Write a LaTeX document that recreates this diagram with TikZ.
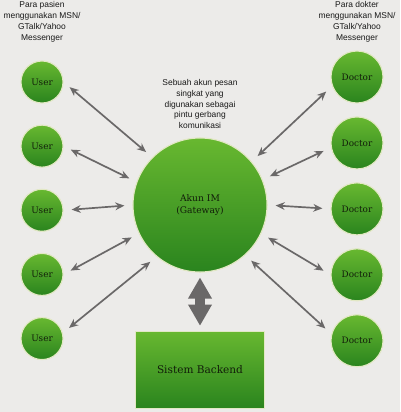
\documentclass[tikz,border=0pt]{standalone}
\usepackage{fontspec}
\setmainfont{DejaVu Serif}
\newfontfamily\notefont{Liberation Sans}
\usepackage{tikz}
\usetikzlibrary{arrows.meta, positioning}
\definecolor{IM-bg}{RGB}{236,235,233}
\definecolor{IM-lightgreen}{RGB}{104,184,48}
\definecolor{IM-darkgreen}{RGB}{42,132,30}
\definecolor{IM-rim}{RGB}{226,232,196}
\definecolor{IM-grey}{RGB}{106,104,104}
\definecolor{IM-text}{RGB}{18,30,10}
\tikzset{%
    edge/.style={%
        <->,
        >={Stealth[length=6.5pt, width=5.5pt]},
        draw=IM-grey,
        line width=1.2pt,
        shorten <=0.2cm,
        shorten >=0.2cm,
    },
    bigedge/.style={%
        {Triangle[length=0.53cm, width=0.56cm]}-{Triangle[length=0.53cm, width=0.56cm]},
        draw=IM-grey,
        line width=0.25cm,
        shorten <=0.12cm,
        shorten >=0.12cm,
    },
    ball/.style={%
        circle,
        top color=IM-lightgreen,
        bottom color=IM-darkgreen,
        draw=IM-rim, line width=0.8pt,
        text=IM-text,
        text centered,
    },
    user/.style={%
        ball,
        minimum size=1.05cm,
        font=\fontsize{6.3}{7}\selectfont,
    },
    doctor/.style={%
        ball,
        minimum size=1.3cm,
        font=\fontsize{6.3}{7}\selectfont,
    },
    gateway/.style={%
        ball,
        minimum size=3.35cm,
        align=center,
        font=\fontsize{6.5}{8}\selectfont,
    },
    backend/.style={%
        rectangle,
        top color=IM-lightgreen,
        bottom color=IM-darkgreen,
        draw=IM-rim, line width=0.8pt,
        minimum width=3.23cm,
        minimum height=1.93cm,
        text=IM-text,
        font=\fontsize{7.5}{9}\selectfont,
    },
    note/.style={%
        align=center,
        text=black!90,
        font=\notefont\fontsize{6}{7.8}\selectfont,
    },
}

\begin{document}
\begin{tikzpicture}[x=0.025cm, y=-0.025cm]
  \fill[IM-bg] (0,0) rectangle (400,412);
  \useasboundingbox (0,0) rectangle (400,412);

  \coordinate (left_side) at (42, 82);
  \coordinate (right_side) at (357, 77);

  \node [note] at (42, 22) (note_user) {Para pasien\\menggunakan MSN/\\GTalk/Yahoo\\Messenger};
  \node [note] at (357, 22) (note_doctor) {Para dokter\\menggunakan MSN/\\GTalk/Yahoo\\Messenger};
  \node [note] at (200, 104) (note_gw) {Sebuah akun pesan\\singkat yang\\digunakan sebagai\\pintu gerbang\\komunikasi};

  \node [user] at (left_side) (user1) {User};
  \node [user, below=0.525cm of user1] (user2) {User};
  \node [user, below=0.525cm of user2] (user3) {User};
  \node [user, below=0.525cm of user3] (user4) {User};
  \node [user, below=0.525cm of user4] (user5) {User};

  \node [doctor] at (right_side) (doctor1) {Doctor};
  \node [doctor, below=0.32cm of doctor1] (doctor2) {Doctor};
  \node [doctor, below=0.32cm of doctor2] (doctor3) {Doctor};
  \node [doctor, below=0.32cm of doctor3] (doctor4) {Doctor};
  \node [doctor, below=0.32cm of doctor4] (doctor5) {Doctor};

  \node [gateway] at (200, 205) (gw) {Akun IM\\(Gateway)};
  \node [backend, below=1.45cm of gw] (backend) {Sistem Backend};

  \draw[edge] (user1.east) -- (gw.135);
  \draw[edge] (user2.east) -- (gw.160);
  \draw[edge] (user3.east) -- (gw.west);
  \draw[edge] (user4.east) -- (gw.205);
  \draw[edge] (user5.15) -- (gw.230);

  \draw[edge] (doctor1.200) -- (gw.40);
  \draw[edge] (doctor2.190) -- (gw.22);
  \draw[edge] (doctor3.west) -- (gw.east);
  \draw[edge] (doctor4.west) -- (gw.335);
  \draw[edge] (doctor5.165) -- (gw.312);

  \draw[bigedge] (gw.south) -- (backend.north);
\end{tikzpicture}
\end{document}
